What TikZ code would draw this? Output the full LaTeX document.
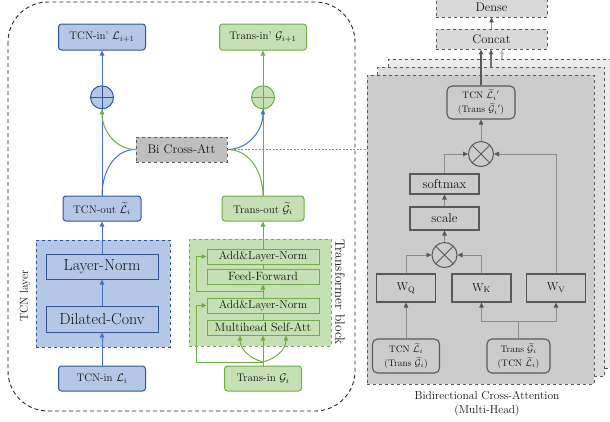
\RequirePackage{fix-cm}
\documentclass[tikz,border=0pt]{standalone}
\usepackage{amsmath}
\usepackage{amssymb}
\usepackage{fontspec}
\usepackage{tikz}
\usepackage{xcolor}
\usetikzlibrary{shapes,arrows.meta,positioning,calc}
\definecolor{tcnfill}{RGB}{180,199,231}
\definecolor{tcnedge}{RGB}{47,85,151}
\definecolor{tcnline}{RGB}{68,114,196}
\definecolor{transfill}{RGB}{197,224,180}
\definecolor{transedge}{RGB}{112,173,71}
\definecolor{attfill}{RGB}{191,191,191}
\definecolor{headedge}{RGB}{89,89,89}
\definecolor{headline}{RGB}{140,140,140}
\definecolor{headfront}{RGB}{204,204,204}
\definecolor{headmid}{RGB}{222,222,222}
\definecolor{headback}{RGB}{236,236,236}
\definecolor{outfill}{RGB}{217,217,217}

\begin{document}
\begin{tikzpicture}[x=1pt, y=1pt,
    every node/.style={inner sep=0pt, text=black!92},
    tcnbox/.style={draw=tcnedge, fill=tcnfill, line width=1pt, rounded corners=3pt, font=\fontsize{11}{13}\selectfont},
    transbox/.style={draw=transedge, fill=transfill, line width=1pt, rounded corners=3pt, font=\fontsize{11}{13}\selectfont},
    tcninner/.style={draw=tcnedge, fill=tcnfill, line width=1pt, minimum width=112pt, font=\fontsize{16}{19}\selectfont},
    transinner/.style={draw=transedge, fill=transfill, line width=1pt, minimum width=112pt, minimum height=15pt, font=\fontsize{12}{14}\selectfont},
    tcnsum/.style={circle, draw=tcnedge, fill=tcnfill, line width=1pt, minimum size=23pt,
        path picture={\draw[tcnedge, line width=1pt] (path picture bounding box.north) -- (path picture bounding box.south)
            (path picture bounding box.west) -- (path picture bounding box.east);}},
    transsum/.style={circle, draw=transedge, fill=transfill, line width=1pt, minimum size=23pt,
        path picture={\draw[transedge, line width=1pt] (path picture bounding box.north) -- (path picture bounding box.south)
            (path picture bounding box.west) -- (path picture bounding box.east);}},
    tcnarrow/.style={draw=tcnline, line width=1pt, -{Triangle[length=5pt,width=4.5pt]}},
    transarrow/.style={draw=transedge, line width=1pt, -{Triangle[length=5pt,width=4.5pt]}},
    tcnwire/.style={draw=tcnline, line width=1pt},
    transwire/.style={draw=transedge, line width=1pt},
    panelbox/.style={draw=headedge, dashed, line width=0.8pt, minimum width=227pt, minimum height=309pt},
    headbox/.style={draw=headedge, line width=1.1pt, font=\fontsize{13}{15}\selectfont},
    srcbox/.style={draw=headedge, line width=1.1pt, rounded corners=5pt, align=center, font=\fontsize{9.5}{14}\selectfont},
    timesnode/.style={circle, draw=headedge, line width=1pt, minimum size=25pt,
        path picture={\draw[headedge, line width=1pt] (path picture bounding box.north west) -- (path picture bounding box.south east)
            (path picture bounding box.north east) -- (path picture bounding box.south west);}},
    headarrow/.style={draw=headline, line width=0.9pt, -{Triangle[length=5pt,width=4.5pt,color=headedge]}},
    headwire/.style={draw=headline, line width=0.9pt},
    outbox/.style={draw=headedge, fill=outfill, dashed, line width=0.8pt, minimum width=111pt, minimum height=20pt, font=\fontsize{12.5}{15}\selectfont}
]
    \useasboundingbox (0,0) rectangle (610,-421);

    % Outer frame
    \draw[black!85, line width=0.9pt, dash pattern=on 4pt off 3pt, rounded corners=40pt] (8,-2) rectangle (355,-411);

    % TCN stream
    \node[tcnbox, minimum width=87pt, minimum height=26pt] (tcnnext) at (102,-37) {TCN-in' $\mathcal{L}_{i+1}$};
    \node[tcnsum] (tcnadd) at (102,-97.3) {};
    \node[tcnbox, minimum width=78pt, minimum height=25pt] (tcnout) at (102,-208.5) {TCN-out $\widetilde{\mathcal{L}}_i$};
    \node[draw=tcnedge, fill=tcnfill, dashed, line width=0.9pt, minimum width=134pt, minimum height=107pt] (tcnlayer) at (103,-293.5) {};
    \node[tcninner, minimum height=25pt] (tcnnorm) at (102,-266.5) {Layer-Norm};
    \node[tcninner, minimum height=26pt] (dilconv) at (102,-319) {Dilated-Conv};
    \node[tcnbox, minimum width=87pt, minimum height=25pt] (tcnin) at (102,-378.5) {TCN-in $\mathcal{L}_i$};
    \node[rotate=90, font=\fontsize{11.5}{14}\selectfont] (tcnlabel) at (25,-296) {TCN layer};

    % Transformer stream
    \node[transbox, minimum width=87pt, minimum height=26pt] (transnext) at (263,-37) {Trans-in' $\mathcal{G}_{i+1}$};
    \node[transsum] (transadd) at (263,-97.3) {};
    \node[transbox, minimum width=82pt, minimum height=25pt] (transout) at (263,-208.5) {Trans-out $\widetilde{\mathcal{G}}_i$};
    \node[draw=transedge, fill=transfill, dashed, line width=0.9pt, minimum width=142pt, minimum height=107pt] (transblock) at (260,-292.5) {};
    \node[transinner, font=\fontsize{11.5}{14}\selectfont] (addnorm1) at (263,-256.5) {Add\&Layer-Norm};
    \node[transinner] (ffwd) at (263,-276.5) {Feed-Forward};
    \node[transinner, font=\fontsize{11.5}{14}\selectfont] (addnorm2) at (263,-305.5) {Add\&Layer-Norm};
    \node[transinner] (mhsa) at (263,-327.5) {Multihead Self-Att};
    \node[transbox, minimum width=77pt, minimum height=25pt] (transin) at (263,-378.5) {Trans-in $\mathcal{G}_i$};
    \node[rotate=-90, font=\fontsize{13.5}{16}\selectfont] (translabel) at (340,-292) {Transformer block};
    \coordinate (split) at (263,-362);

    % Bi cross attention
    \node[draw=headedge, fill=attfill, dashed, line width=0.8pt, minimum width=91pt, minimum height=25pt,
        font=\fontsize{12.5}{15}\selectfont] (bica) at (181.5,-149.5) {Bi Cross-Att};

    % TCN connectors
    \draw[tcnarrow] (tcnin) -- (dilconv);
    \draw[tcnarrow] (dilconv) -- (tcnnorm);
    \draw[tcnarrow] (tcnnorm) -- (tcnout);
    \draw[tcnwire] (tcnout) -- (tcnadd);
    \draw[tcnarrow] (tcnadd) -- (tcnnext);
    \draw[tcnwire] (tcnout.north) to[out=90, in=180] (bica.west);
    \draw[transarrow] (bica.west) to[out=180, in=-90] (tcnadd.south);

    % Transformer connectors
    \draw[transwire] (transin) -- (split);
    \draw[transarrow] (split) to[out=165, in=-90] ([xshift=-23pt]mhsa.south);
    \draw[transarrow] (split) -- (mhsa);
    \draw[transarrow] (split) to[out=15, in=-90] ([xshift=23pt]mhsa.south);
    \draw[transarrow] (split) -| ([xshift=-10pt]addnorm2.west) -- (addnorm2.west);
    \draw[transwire] (mhsa) -- (addnorm2);
    \draw[transarrow] (addnorm2) -- (ffwd);
    \draw[transarrow] ($(addnorm2.north)!0.5!(ffwd.south)$) -| ([xshift=-10pt]addnorm1.west) -- (addnorm1.west);
    \draw[transwire] (ffwd) -- (addnorm1);
    \draw[transarrow] (addnorm1) -- (transout);
    \draw[transwire] (transout) -- (transadd);
    \draw[transarrow] (transadd) -- (transnext);
    \draw[transwire] (transout.north) to[out=90, in=0] (bica.east);
    \draw[tcnarrow] (bica.east) to[out=0, in=-90] (transadd.south);

    % Attention heads (stacked)
    \node[panelbox, fill=headback] (head3) at (502,-213.5) {};
    \node[panelbox, fill=headmid] (head2) at (491,-221.5) {};
    \node[panelbox, fill=headfront] (head1) at (480.5,-229.5) {};
    \draw[headline, line width=0.6pt, dash pattern=on 2pt off 1.5pt] (bica.east) -- (bica.east -| head1.west);

    \node[outbox] (dense) at (491.5,-7) {Dense};
    \node[outbox] (concat) at (491.5,-39) {Concat};
    \draw[headarrow] (concat) -- (dense);

    % Inside one head
    \node[srcbox, minimum width=68pt, minimum height=33pt] (headout) at (481,-102.5) {TCN $\widetilde{\mathcal{L}}_i{}'$\\(Trans $\widetilde{\mathcal{G}}_i{}'$)};
    \node[timesnode] (mulv) at (481,-154) {};
    \node[headbox, minimum width=69pt, minimum height=20pt] (softmax) at (444.5,-184) {softmax};
    \node[headbox, minimum width=69pt, minimum height=23pt] (scale) at (444.5,-218.5) {scale};
    \node[timesnode] (mulqk) at (444.5,-255) {};
    \node[headbox, minimum width=59pt, minimum height=28pt, font=\fontsize{11.5}{14}\selectfont] (wq) at (406,-288) {W$_\mathrm{Q}$};
    \node[headbox, minimum width=59pt, minimum height=28pt, font=\fontsize{11.5}{14}\selectfont] (wk) at (481.5,-288) {W$_\mathrm{K}$};
    \node[headbox, minimum width=59pt, minimum height=28pt, font=\fontsize{11.5}{14}\selectfont] (wv) at (556,-288) {W$_\mathrm{V}$};
    \node[srcbox, minimum width=67pt, minimum height=34pt] (qsrc) at (406,-356) {TCN $\widetilde{\mathcal{L}}_i$\\(Trans $\widetilde{\mathcal{G}}_i$)};
    \node[srcbox, minimum width=63pt, minimum height=34pt] (kvsrc) at (518.5,-356) {Trans $\widetilde{\mathcal{G}}_i$\\(TCN $\widetilde{\mathcal{L}}_i$)};
    \coordinate (kvsplit) at (518.5,-321);
    \node[align=center, font=\fontsize{11.5}{14}\selectfont] (caption) at (487,-404) {Bidirectional Cross-Attention\\(Multi-Head)};

    \draw[headarrow] (qsrc) -- (wq);
    \draw[headwire] (kvsrc) -- (kvsplit);
    \draw[headarrow] (kvsplit) -| (wk);
    \draw[headarrow] (kvsplit) -| (wv);
    \draw[headarrow] (wq.north) |- (mulqk.west);
    \draw[headarrow] (wk.north) |- (mulqk.east);
    \draw[headarrow] (mulqk) -- (scale);
    \draw[headarrow] (scale) -- (softmax);
    \draw[headarrow] (softmax.north) |- (mulv.west);
    \draw[headarrow] (wv.north) |- (mulv.east);
    \draw[headarrow] (mulv) -- (headout);

    % Heads into concat
    \draw[headarrow, draw=headedge, line width=1.2pt] (headout.north) -- (headout.north |- concat.south);
    \draw[headarrow, draw=black!55, line width=1.2pt] (head2.north) -- (head2.north |- concat.south);
    \draw[-{Triangle[length=5pt,width=4.5pt]}, draw=black!25, line width=1.2pt] (head3.north) -- (head3.north |- concat.south);

\end{tikzpicture}
\end{document}
